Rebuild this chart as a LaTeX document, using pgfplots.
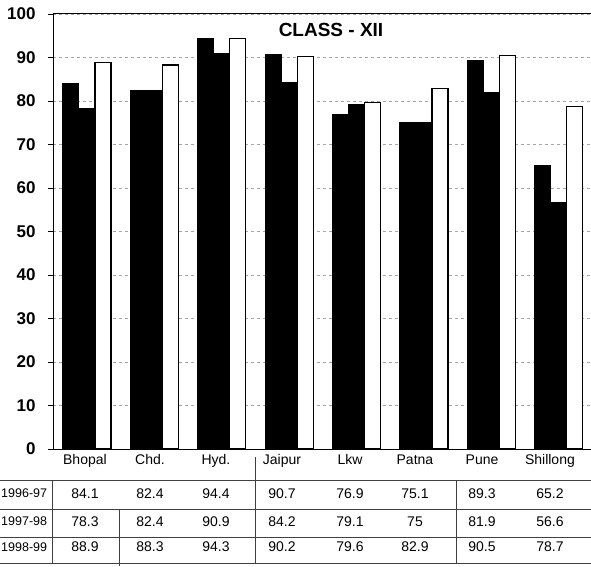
\documentclass[border=0pt]{standalone}
\usepackage{pgfplots}
\pgfplotsset{compat=1.18}
\usepackage{pgfplotstable}
\usepackage{fontspec}
\setmainfont{Liberation Sans}
\setsansfont{Liberation Sans}

\pgfplotstableread{
x a b c
0 84.1 78.3 88.9
1 82.4 82.4 88.3
2 94.4 90.9 94.3
3 90.7 84.2 90.2
4 76.9 79.1 79.6
5 75.1 75.0 82.9
6 89.3 81.9 90.5
7 65.2 56.6 78.7
}\data

\begin{document}
\begin{tikzpicture}[x=1pt,y=1pt]
\begin{axis}[
  at={(53pt,117pt)}, anchor=south west,
  scale only axis, width=538pt, height=435pt,
  xmin=-0.504, xmax=7.478, ymin=0, ymax=100,
  ybar=0pt, bar width=16pt,
  ytick={0,10,...,100},
  xtick={-0.030,0.935,1.914,2.893,3.902,4.866,5.861,6.869},
  xticklabels={Bhopal,Chd.,Hyd.,Jaipur,Lkw,Patna,Pune,Shillong},
  x tick style={draw=none},
  y tick style={black, line width=0.8pt},
  ytick align=outside, xtick align=inside, major tick length=5pt,
  axis line style={line width=1pt},
  ymajorgrids, grid style={dashed, gray!70, line width=0.5pt},
  /pgf/number format/assume math mode=true,
  yticklabel style={font=\fontsize{17}{20}\selectfont\bfseries, xshift=-9pt},
  xticklabel style={font=\fontsize{14}{16}\selectfont, yshift=-2pt},
]
\addplot[fill=black, draw=black, line width=1pt] table[x=x,y=a]{\data};
\addplot[fill=black, draw=black, line width=1pt] table[x=x,y=b]{\data};
\addplot[fill=white, draw=black, line width=1.3pt] table[x=x,y=c]{\data};
\end{axis}
\node[font=\fontsize{19}{22}\selectfont\bfseries] at (331,536) {CLASS - XII};
% data table
\begin{scope}[every node/.style={font=\fontsize{14}{16}\selectfont, inner sep=0pt}]
\node[anchor=west, font=\fontsize{12.5}{15}\selectfont] at (1,72.5) {1996-97};
\node[anchor=west, font=\fontsize{12.5}{15}\selectfont] at (1,44.5) {1997-98};
\node[anchor=west, font=\fontsize{12.5}{15}\selectfont] at (1,19) {1998-99};
\foreach \xx/\v in {85/84.1,150/82.4,216/94.4,282/90.7,350/76.9,415/75.1,482/89.3,550/65.2}
  \node at (\xx,72.5) {\v};
\foreach \xx/\v in {85/78.3,150/82.4,216/90.9,282/84.2,350/79.1,415/75,482/81.9,550/56.6}
  \node at (\xx,44.5) {\v};
\foreach \xx/\v in {85/88.9,150/88.3,216/94.3,282/90.2,350/79.6,415/82.9,482/90.5,550/78.7}
  \node at (\xx,19) {\v};
\end{scope}
\begin{scope}[black!75, line width=0.8pt]
\draw (0,86) -- (591,86);
\draw (0,57) -- (591,57);
\draw (0,29) -- (591,29);
\draw (0,3) -- (591,3);
\draw (52,86) -- (52,3);
\draw (119,57) -- (119,0);
\draw (255,109) -- (255,3);
\draw (456,86) -- (456,3);
\end{scope}
\pgfresetboundingbox
\path[use as bounding box] (0,0) rectangle (591,566);
\end{tikzpicture}
\end{document}
